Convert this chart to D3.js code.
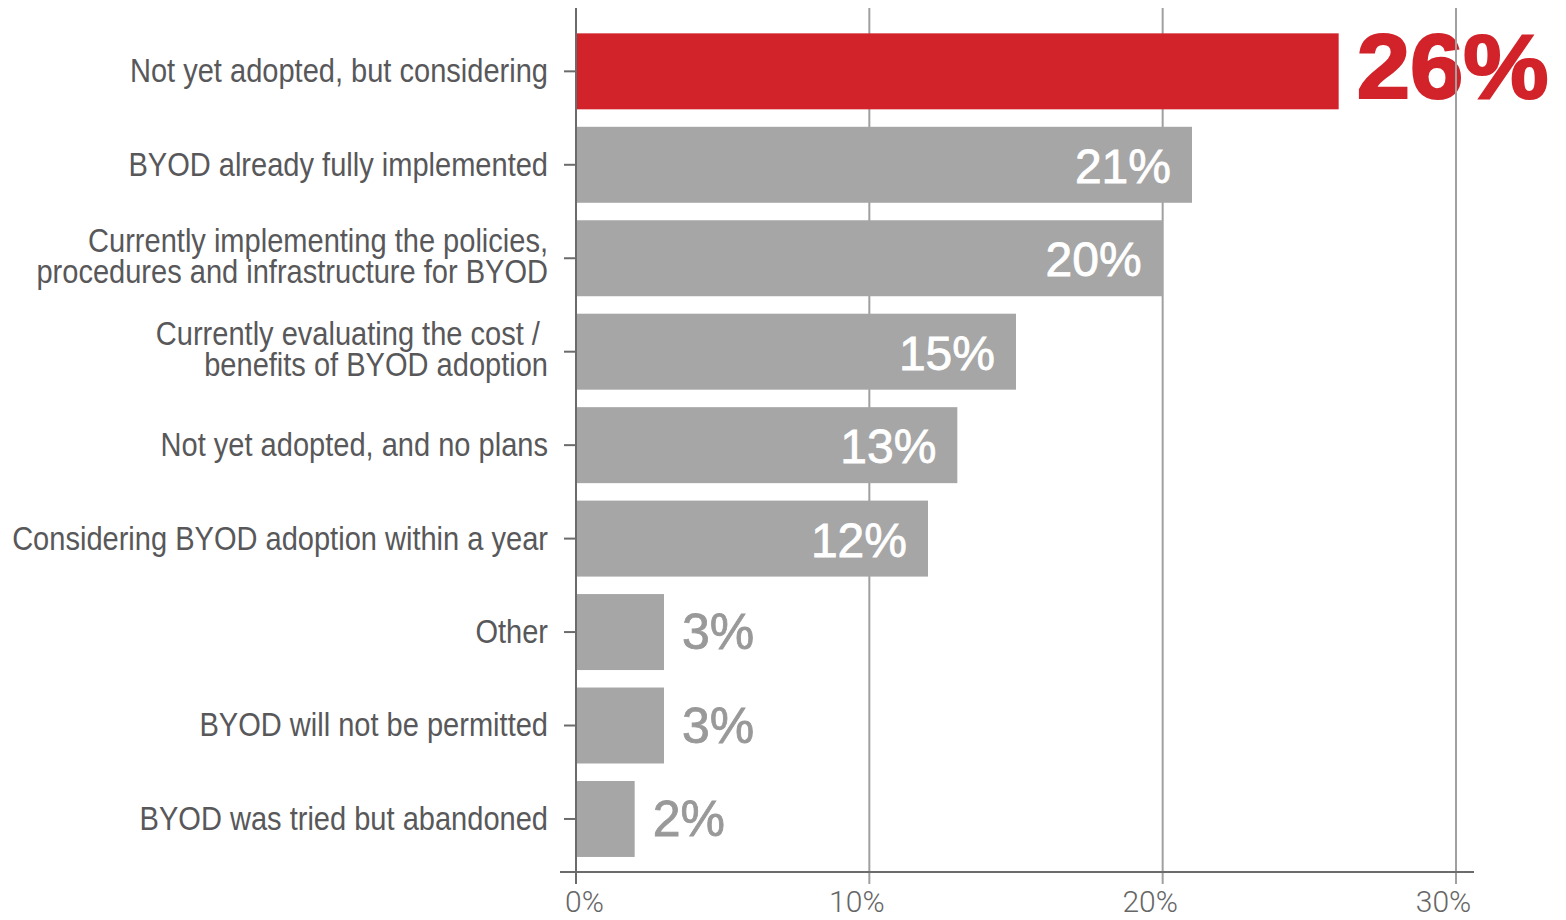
<!DOCTYPE html>
<html>
<head>
<meta charset="utf-8">
<script src="https://cdn.jsdelivr.net/npm/d3@7"></script>
<style>
  html, body { margin: 0; padding: 0; background: #ffffff; }
  svg { display: block; }
  .cat { font-family: "Liberation Sans", Arial, Helvetica, sans-serif; white-space: pre; }
  .val { font-family: "Liberation Sans", Arial, Helvetica, sans-serif; }
  .tick-label { font-family: Roboto, "Liberation Sans", sans-serif; font-weight: 300; }
</style>
</head>
<body>
<svg id="chart" width="1566" height="920"></svg>
<script>
// Survey answers, top to bottom, with the share of respondents (%)
const categories = [
  "Not yet adopted, but considering",
  "BYOD already fully implemented",
  "Currently implementing the policies,\nprocedures and infrastructure for BYOD",
  "Currently evaluating the cost / \nbenefits of BYOD adoption",
  "Not yet adopted, and no plans",
  "Considering BYOD adoption within a year",
  "Other",
  "BYOD will not be permitted",
  "BYOD was tried but abandoned"
];
const values = [26, 21, 20, 15, 13, 12, 3, 3, 2];
const highlighted = [true, false, false, false, false, false, false, false, false];
const xTicks = [0, 10, 20, 30];

const RED = "#d2232a";
const BAR_GREY = "#a6a6a6";
const OUT_GREY = "#999999";
const AXIS_DARK = "#6b6b6b";
const GRID = "#a0a0a0";

const svg = d3.select("#chart");
const idx = d3.range(categories.length);

const x = d3.scaleLinear().domain([0, 30]).range([576, 1456]);
const y = d3.scaleBand().domain(idx).range([24, 866.3]).paddingInner(0.187).paddingOuter(0.1);

const axisTop = 8, axisY = 872;
const pct = d => d + "%";

// label placement: highlighted value sits outside in large red type,
// small values sit outside in grey, the rest sit inside the bar in white
const placement = i => highlighted[i] ? "hero" : (values[i] < 5 ? "outside" : "inside");

// outside labels (drawn beneath the gridlines)
const outer = svg.append("g");
outer.selectAll("text")
  .data(idx.filter(i => placement(i) !== "inside"))
  .join("text")
  .attr("class", "val")
  .attr("x", i => x(values[i]) + 18)
  .attr("y", i => {
    const c = y(i) + y.bandwidth() / 2;
    return placement(i) === "hero" ? c + 26.5 : c + 17;
  })
  .attr("font-size", i => placement(i) === "hero" ? 90 : 50)
  .attr("font-weight", i => placement(i) === "hero" ? 700 : 400)
  .attr("fill", i => placement(i) === "hero" ? RED : OUT_GREY)
  .attr("stroke", i => placement(i) === "hero" ? RED : OUT_GREY)
  .attr("stroke-width", i => placement(i) === "hero" ? 2.2 : 0.8)
  .attr("textLength", i => placement(i) === "hero" ? 192 : null)
  .attr("lengthAdjust", "spacingAndGlyphs")
  .text(i => pct(values[i]));

// vertical gridlines
svg.append("g")
  .selectAll("line")
  .data(xTicks.filter(t => t > 0))
  .join("line")
  .attr("x1", d => x(d)).attr("x2", d => x(d))
  .attr("y1", axisTop).attr("y2", axisY + 12)
  .attr("stroke", GRID)
  .attr("stroke-width", 2);

// bars
svg.append("g")
  .selectAll("rect")
  .data(idx)
  .join("rect")
  .attr("x", x(0))
  .attr("y", i => y(i))
  .attr("width", i => x(values[i]) - x(0))
  .attr("height", y.bandwidth())
  .attr("fill", i => highlighted[i] ? RED : BAR_GREY);

// inside labels
svg.append("g")
  .selectAll("text")
  .data(idx.filter(i => placement(i) === "inside"))
  .join("text")
  .attr("class", "val")
  .attr("x", i => x(values[i]) - 21)
  .attr("y", i => y(i) + y.bandwidth() / 2 + 18)
  .attr("text-anchor", "end")
  .attr("font-size", 48)
  .attr("fill", "#ffffff")
  .attr("stroke", "#ffffff")
  .attr("stroke-width", 0.8)
  .text(i => pct(values[i]));

// y axis: ticks from the band scale, custom multi-line labels
const yAxis = svg.append("g")
  .attr("transform", `translate(${x(0)},0)`)
  .call(d3.axisLeft(y).tickSize(12).tickFormat(""));
yAxis.select(".domain").remove();
yAxis.selectAll(".tick line").attr("stroke", AXIS_DARK).attr("stroke-width", 2);

// category labels in a horizontally condensed sans
const condense = 0.88;
const catLabels = svg.append("g");
idx.forEach(i => {
  const lines = categories[i].split("\n");
  const c = y(i) + y.bandwidth() / 2;
  const lh = 31;
  const base = lines.length === 1 ? c + 11 : c + 9 - lh / 2;
  const t = catLabels.append("g")
    .attr("transform", `translate(${x(0) - 28},0) scale(${condense},1)`)
    .append("text")
    .attr("class", "cat")
    .attr("text-anchor", "end")
    .attr("font-size", 33)
    .attr("fill", "#58585a");
  lines.forEach((ln, k) => {
    t.append("tspan").attr("x", 0).attr("y", base + k * lh).text(ln);
  });
});

// y axis line
svg.append("line")
  .attr("x1", x(0)).attr("x2", x(0))
  .attr("y1", axisTop).attr("y2", axisY + 12)
  .attr("stroke", AXIS_DARK).attr("stroke-width", 2);

// x axis
const xAxis = svg.append("g")
  .attr("transform", `translate(0,${axisY})`)
  .call(d3.axisBottom(x).tickValues(xTicks).tickSize(0).tickFormat(pct));
xAxis.select(".domain").remove();
xAxis.selectAll(".tick text")
  .attr("class", "tick-label")
  .attr("font-size", 30)
  .attr("fill", "#666666")
  .attr("y", 40)
  .attr("dy", 0)
  .attr("dx", d => d === 0 ? 8 : -13);

svg.append("line")
  .attr("x1", x(0) - 16).attr("x2", x(30) + 18)
  .attr("y1", axisY).attr("y2", axisY)
  .attr("stroke", AXIS_DARK).attr("stroke-width", 2);
</script>
</body>
</html>
